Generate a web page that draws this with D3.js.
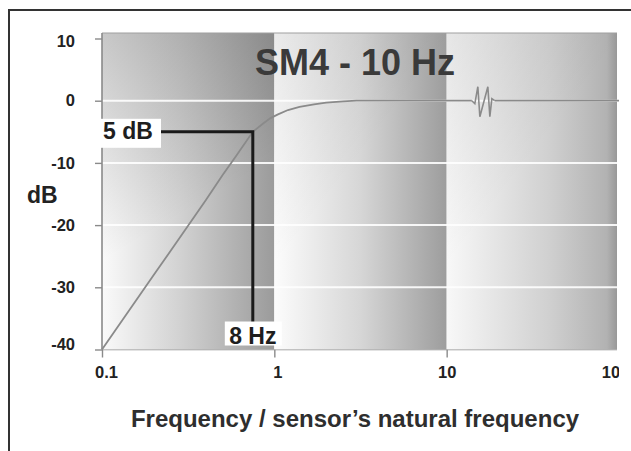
<!DOCTYPE html>
<html><head><meta charset="utf-8">
<script src="https://cdn.jsdelivr.net/npm/d3@7"></script>
<style>html,body{margin:0;padding:0;background:#fff;} svg{display:block;}</style>
</head><body>
<svg id="chart" width="631" height="451"></svg>
<script>
// ---- data ----
const freqRise = [0.1, 0.2, 0.3, 0.4, 0.5, 0.6, 0.75, 0.85, 0.95, 1.05, 1.2, 1.4, 1.7, 2, 2.5, 3, 5, 10, 14];
const dbRise   = [-40, -28, -21, -16, -12, -8.9, -5, -3.8, -2.8, -2.2, -1.5, -1.0, -0.6, -0.3, -0.1, 0, 0, 0, 0];
const freqFlat = [19, 100];
const dbFlat   = [0, 0];
const bandEdges = [0.1, 1, 10, 100];
const xTickValues = [0.1, 1, 10, 100];
const xTickLabels = ["0.1", "1", "10", "100"];
const yTickValues = [-40, -30, -20, -10, 0, 10];
const yTickLabels = ["-40", "-30", "-20", "-10", "0", "10"];
const gridValues = [-30, -20, -10, 0];
const markerFreq = 0.75;
const markerDb = -5;
const breakFreq = 14;
const titleText = "SM4 - 10 Hz";
const yTitleText = "dB";
const xTitleText = "Frequency / sensor\u2019s natural frequency";
const markerDbLabel = "5 dB";
const markerFreqLabel = "8 Hz";

// ---- layout ----
const W = 631, H = 451;
const plotL = 102, plotR = 617, plotT = 33, plotB = 349.5;
const svg = d3.select("#chart");
const x = d3.scaleLog().domain([0.1, 100]).range([plotL, 619]);
const y = d3.scaleLinear().domain([-40, 10]).range([plotB, 38.5]);
const fontFam = "Liberation Sans, Arial, sans-serif";

const defs = svg.append("defs");
function grad(id, x1, y1, x2, y2, stops, user) {
  const g = defs.append("linearGradient").attr("id", id)
    .attr("x1", x1).attr("y1", y1).attr("x2", x2).attr("y2", y2);
  if (user) g.attr("gradientUnits", "userSpaceOnUse");
  stops.forEach(s => g.append("stop").attr("offset", s[0])
    .attr("stop-color", s[1]).attr("stop-opacity", s[2] === undefined ? 1 : s[2]));
}
grad("b0", 0, 0, 1, 0, [[0, "#fafafa"], [0.45, "#d2d2d2"], [1, "#9b9b9b"]]);
grad("b1", 0, 0, 1, 0, [[0, "#fcfcfc"], [0.5, "#d6d6d6"], [1, "#9d9d9d"]]);
grad("b2", 0, 0, 1, 0, [[0, "#f8f8f8"], [0.6, "#d0d0d0"], [0.94, "#b2b2b2"], [1, "#989898"]]);
const b0L = x(bandEdges[0]);
grad("o0", b0L, plotT, b0L + 100, plotT + 170, [[0, "#000", 0.2], [1, "#000", 0]], true);
grad("o1", 0, 0, 0.35, 0.5, [[0, "#000", 0.07], [1, "#000", 0]]);
defs.append("clipPath").attr("id", "xclip").append("rect")
  .attr("x", 0).attr("y", 0).attr("width", 619).attr("height", H);

// outer frame
svg.append("path").attr("d", `M9,${H} V10 H${W}`)
  .attr("fill", "none").attr("stroke", "#333").attr("stroke-width", 2);

// bands
const bands = d3.pairs(bandEdges);
const bandW = d => Math.min(x(d[1]), plotR) - x(d[0]);
svg.append("g").selectAll("rect").data(bands).join("rect")
  .attr("x", d => x(d[0])).attr("y", plotT)
  .attr("width", bandW).attr("height", plotB - plotT)
  .attr("fill", (d, i) => `url(#b${i})`);
svg.append("g").selectAll("rect").data(bands).join("rect")
  .attr("x", d => x(d[0])).attr("y", plotT)
  .attr("width", bandW).attr("height", plotB - plotT)
  .attr("fill", (d, i) => i === 0 ? "url(#o0)" : "url(#o1)");

// top border
svg.append("line").attr("x1", plotL).attr("x2", plotR).attr("y1", plotT).attr("y2", plotT)
  .attr("stroke", "#a0a0a0").attr("stroke-width", 1.2);

// grid
svg.append("g").selectAll("line").data(gridValues).join("line")
  .attr("x1", plotL).attr("x2", plotR)
  .attr("y1", d => y(d)).attr("y2", d => y(d))
  .attr("stroke", "#ffffff").attr("stroke-width", 2).attr("opacity", 0.9);

// axes
const yAxis = svg.append("g").attr("transform", `translate(${plotL},0)`)
  .call(d3.axisLeft(y).tickValues(yTickValues).tickSize(7).tickSizeOuter(0).tickPadding(20)
    .tickFormat((d, i) => yTickLabels[i]));
const xAxis = svg.append("g").attr("transform", `translate(0,${plotB})`)
  .call(d3.axisBottom(x).tickValues(xTickValues).tickSize(8).tickSizeOuter(0).tickPadding(9)
    .tickFormat((d, i) => xTickLabels[i]));
[yAxis, xAxis].forEach(a => {
  a.select(".domain").attr("stroke", "#8a8a8a").attr("stroke-width", 1.6);
  a.selectAll(".tick line").attr("stroke", "#8a8a8a").attr("stroke-width", 1.4);
  a.selectAll(".tick text").attr("fill", "#222").attr("font-family", fontFam)
    .attr("font-weight", "bold").attr("font-size", 16.5);
});
yAxis.select(".domain").attr("d", `M0,${plotT}V${plotB}`);
xAxis.select(".domain").attr("d", `M${plotL},0H${plotR}`);
yAxis.selectAll(".tick").filter(d => d === 10).select("text").attr("y", 3);
yAxis.selectAll(".tick").filter(d => d === -40).select("text").attr("y", -5);
xAxis.selectAll(".tick").filter(d => d === 0.1).select("text").attr("dx", 4);
xAxis.selectAll(".tick").filter(d => d === 1).select("text").attr("dx", 3);
xAxis.selectAll(".tick").filter(d => d === 100).select("line").remove();
xAxis.selectAll(".tick").filter(d => d === 100).select("text").attr("dx", -4);
xAxis.attr("clip-path", "url(#xclip)");

// curve
const line = d3.line().x(d => x(d[0])).y(d => y(d[1]));
const rise = d3.zip(freqRise, dbRise);
const flat = d3.zip(freqFlat, dbFlat);
svg.append("path").attr("d", line(rise)).attr("fill", "none")
  .attr("stroke", "#8a8a8a").attr("stroke-width", 1.8);
svg.append("path").attr("d", line(flat)).attr("fill", "none")
  .attr("stroke", "#8a8a8a").attr("stroke-width", 1.8);
// break symbol
const bx = x(breakFreq), by = y(0);
const zig = [[0, 0], [3, 3], [6, -14], [8, 16], [16, -14], [18, 16], [20, -2], [x(freqFlat[0]) - bx, 0]];
svg.append("path").attr("d", d3.line()(zig.map(p => [bx + p[0], by + p[1]])))
  .attr("fill", "none").attr("stroke", "#8a8a8a").attr("stroke-width", 1.6);

// marker lines
const mx = x(markerFreq), my = y(markerDb);
svg.append("path").attr("d", `M${plotL},${my}H${mx}V${y(-36)}`)
  .attr("fill", "none").attr("stroke", "#1a1a1a").attr("stroke-width", 3);

// label boxes
svg.append("rect").attr("x", plotL - 2).attr("y", my - 13).attr("width", 61).attr("height", 29).attr("fill", "#fff");
svg.append("text").attr("x", plotL + 1).attr("y", my + 7).text(markerDbLabel)
  .attr("font-family", fontFam).attr("font-weight", "bold").attr("font-size", 23).attr("fill", "#1e1e1e");
svg.append("rect").attr("x", mx - 28).attr("y", y(-35.5)).attr("width", 57).attr("height", 24).attr("fill", "#fff");
svg.append("text").attr("x", mx).attr("y", plotB - 6).attr("text-anchor", "middle").text(markerFreqLabel)
  .attr("font-family", fontFam).attr("font-weight", "bold").attr("font-size", 23).attr("fill", "#1e1e1e");

// titles
svg.append("text").attr("x", 355).attr("y", 75).attr("text-anchor", "middle").text(titleText)
  .attr("font-family", fontFam).attr("font-weight", "bold").attr("font-size", 36).attr("fill", "#3a3a3a");
svg.append("text").attr("x", 27).attr("y", 203).text(yTitleText)
  .attr("font-family", fontFam).attr("font-weight", "bold").attr("font-size", 23).attr("fill", "#222");
svg.append("text").attr("x", 355).attr("y", 427).attr("text-anchor", "middle").text(xTitleText)
  .attr("font-family", fontFam).attr("font-weight", "bold").attr("font-size", 24).attr("fill", "#2e2e2e");
</script>
</body></html>
